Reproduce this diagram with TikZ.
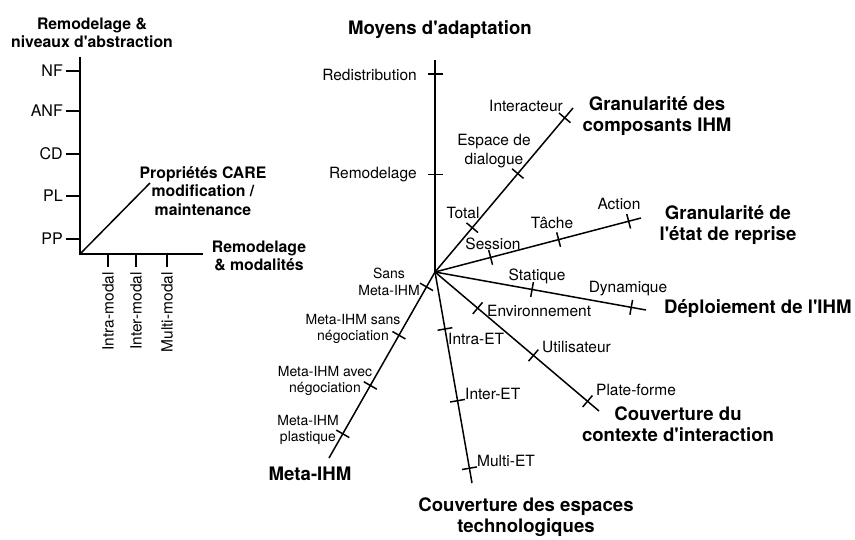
\documentclass[tikz,border=0pt]{standalone}
\usepackage{fontspec}
\setmainfont{TeX Gyre Heros}
\usetikzlibrary{calc}
\newcommand{\apos}{\textquotesingle}

\begin{document}
\begin{tikzpicture}[x=1pt,y=-1pt]
	\tikzstyle{every node}=[align=center, inner sep=1pt]
	\tikzstyle{axe}=[line width=1.5pt]
	\tikzstyle{lab}=[font=\fontsize{15.5}{19}\selectfont]
	\tikzstyle{labm}=[font=\fontsize{14}{16.5}\selectfont]
	\tikzstyle{labg}=[font=\fontsize{16}{19}\selectfont]
	\tikzstyle{titre}=[font=\fontsize{18.6}{21.5}\selectfont\bfseries]
	\tikzstyle{titreg}=[font=\fontsize{15.8}{18.5}\selectfont\bfseries]
	\useasboundingbox (0,0) rectangle (855,539);

	% remodelage
	\coordinate (L0) at (80,254);
	\coordinate (Ltop) at (80,57);
	\coordinate (Lright) at (203,254);
	\coordinate (Ldiag) at (150,183);
	\draw[axe, line width=2pt] (Ltop) to (L0) to (Lright);
	\draw[axe] (L0) to (Ldiag);

	\node[titreg] (Tniv) at (92,33) {Remodelage \&\\niveaux d\apos abstraction};
	\node[titreg] (Tcare) at (203,191) {Propriétés CARE\\modification /\\maintenance};
	\node[titreg] (Tmod) at (259,256) {Remodelage\\\& modalités};

	\node[labg, anchor=east] (NF) at (64,71) {NF};
	\node[labg, anchor=east] (ANF) at (64,111) {ANF};
	\node[labg, anchor=east] (CD) at (64,154) {CD};
	\node[labg, anchor=east] (PL) at (64,196) {PL};
	\node[labg, anchor=east] (PP) at (64,239) {PP};
	\draw[axe] (NF.east) ++(2,0) to (80,71);
	\draw[axe] (ANF.east) ++(2,0) to (80,111);
	\draw[axe] (CD.east) ++(2,0) to (80,154);
	\draw[axe] (PL.east) ++(2,0) to (80,196);
	\draw[axe] (PP.east) ++(2,0) to (80,239);

	\node[lab, rotate=90, anchor=east] (intra) at (108,271) {Intra-modal};
	\node[lab, rotate=90, anchor=east] (inter) at (136,271) {Inter-modal};
	\node[lab, rotate=90, anchor=east] (multi) at (167,271) {Multi-modal};
	\draw[axe] (108,254) to (108,267);
	\draw[axe] (136,254) to (136,267);
	\draw[axe] (167,254) to (167,267);

	% espace des axes
	\coordinate (O) at (435,272);
	\coordinate (eA) at (435,60);
	\coordinate (eG) at (573,108);
	\coordinate (eR) at (641,218);
	\coordinate (eD) at (646,310);
	\coordinate (eC) at (599,411);
	\coordinate (eE) at (472,483);
	\coordinate (eM) at (329,458);

	\draw[axe] (O) to coordinate[pos=.46] (tA1) coordinate[pos=.934] (tA2) (eA);
	\draw[axe] (O) to coordinate[pos=.27] (tG1) coordinate[pos=.60] (tG2) coordinate[pos=.94] (tG3) (eG);
	\draw[axe] (O) to coordinate[pos=.27] (tR1) coordinate[pos=.60] (tR2) coordinate[pos=.94] (tR3) (eR);
	\draw[axe] (O) to coordinate[pos=.46] (tD1) coordinate[pos=.93] (tD2) (eD);
	\draw[axe] (O) to coordinate[pos=.26] (tC1) coordinate[pos=.60] (tC2) coordinate[pos=.93] (tC3) (eC);
	\draw[axe] (O) to coordinate[pos=.27] (tE1) coordinate[pos=.61] (tE2) coordinate[pos=.93] (tE3) (eE);
	\draw[axe] (O) to coordinate[pos=.08] (tM1) coordinate[pos=.34] (tM2) coordinate[pos=.61] (tM3) coordinate[pos=.87] (tM4) (eM);

	\foreach \t in {tA1,tA2,tG1,tG2,tG3,tR1,tR2,tR3,tD1,tD2,tC1,tC2,tC3,tE1,tE2,tE3,tM1,tM2,tM3,tM4}
		\draw[axe] ($(\t)!7.5pt!90:(O)$) to ($(\t)!7.5pt!-90:(O)$);

	\node[titre] (Tmoy) at (440,30) {Moyens d\apos adaptation};
	\node[lab, anchor=east] (redis) at (418,75) {Redistribution};
	\node[lab, anchor=east] (remod) at (418,175) {Remodelage};

	\node[titre] (Tgc) at (657,116) {Granularité des\\composants IHM};
	\node[lab] (total) at (463,213) {Total};
	\node[lab] (espace) at (494,151) {Espace de\\dialogue};
	\node[lab] (interac) at (526,106) {Interacteur};

	\node[titre] (Tge) at (728,225) {Granularité de\\l\apos état de reprise};
	\node[lab] (session) at (493,244) {Session};
	\node[lab] (tache) at (552,223) {Tâche};
	\node[lab] (action) at (619,204) {Action};

	\node[titre, anchor=west] (Tdep) at (663,309) {Déploiement de l\apos IHM};
	\node[lab] (stat) at (537,276) {Statique};
	\node[lab] (dyn) at (628,289) {Dynamique};

	\node[titre] (Tcc) at (678,424) {Couverture du\\contexte d\apos interaction};
	\node[lab, anchor=west] (envir) at (486,311) {Environnement};
	\node[lab, anchor=west] (util) at (541,347) {Utilisateur};
	\node[lab, anchor=west] (plate) at (595,390) {Plate-forme};

	\node[titre] (Tce) at (526,517) {Couverture des espaces\\technologiques};
	\node[lab, anchor=west] (intraet) at (447,339) {Intra-ET};
	\node[lab, anchor=west] (interet) at (464,394) {Inter-ET};
	\node[lab, anchor=west] (multiet) at (476,461) {Multi-ET};

	\node[titre] (Tmeta) at (310,474) {Meta-IHM};
	\node[labm] (sans) at (389,282) {Sans\\Meta-IHM};
	\node[labm] (msans) at (353,329) {Meta-IHM sans\\négociation};
	\node[labm] (mavec) at (325,381) {Meta-IHM avec\\négociation};
	\node[labm] (mplast) at (308,430) {Meta-IHM\\plastique};
\end{tikzpicture}
\end{document}
